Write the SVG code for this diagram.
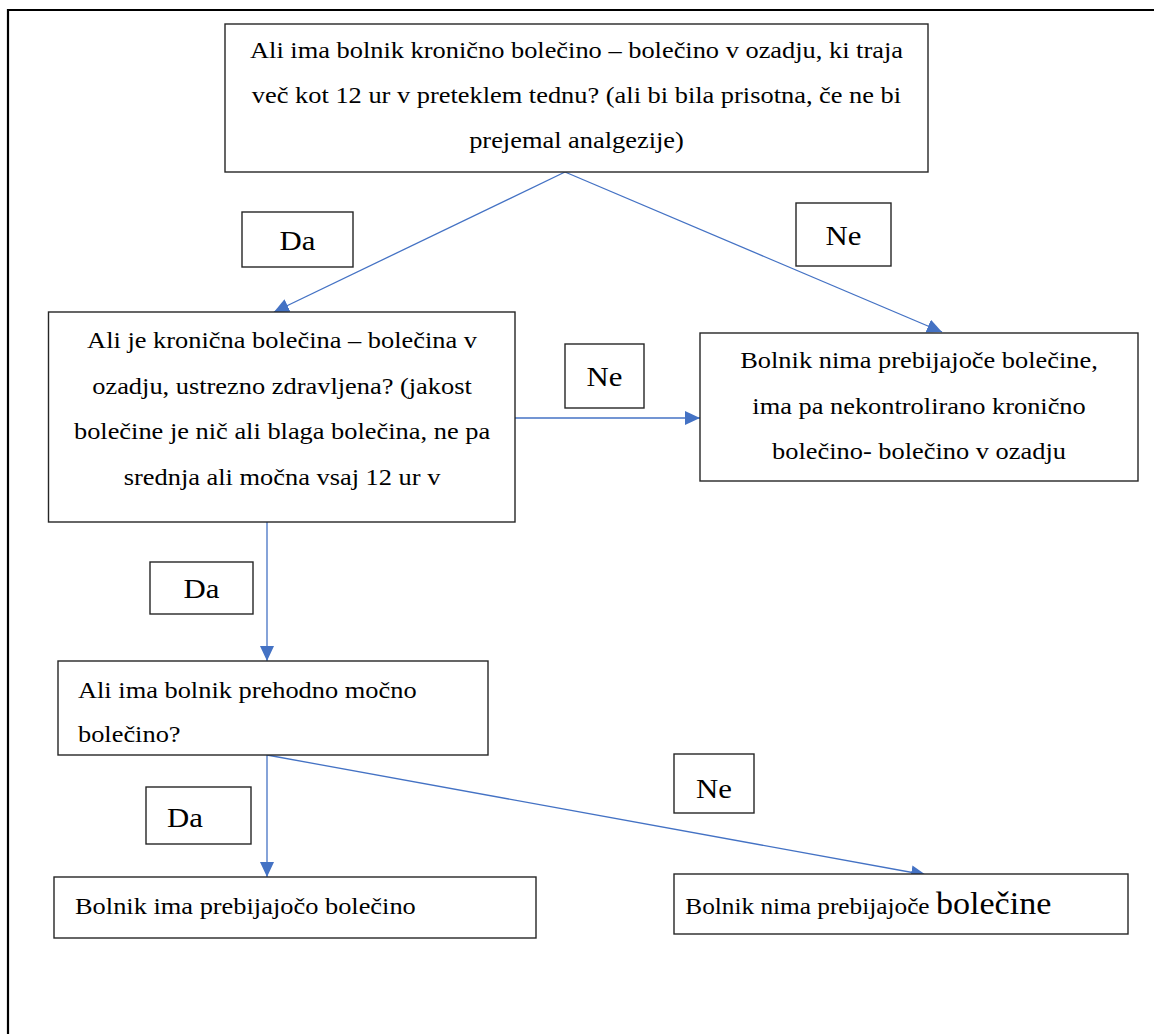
<svg xmlns="http://www.w3.org/2000/svg" width="1154" height="1034" viewBox="0 0 1154 1034">
<defs>
<style>
.box{fill:#fff;stroke:#262626;stroke-width:1.4}
.t{font-family:"Liberation Serif","Times New Roman",serif;font-size:24px;fill:#000}
.c{text-anchor:middle}
.lbl{font-family:"Liberation Serif","Times New Roman",serif;font-size:28px;fill:#000}
.edge{stroke:#4472C4;stroke-width:1.3;fill:none}
</style>
<marker id="ah" markerUnits="userSpaceOnUse" markerWidth="16" markerHeight="14" refX="15" refY="7" orient="auto">
<path d="M0,0 L15,7 L0,14 Z" fill="#4472C4"/>
</marker>
</defs>
<rect width="1154" height="1034" fill="#fff"/>
<g id="frame">
<path d="M8,1034 L8,10 L1154,10" fill="none" stroke="#000" stroke-width="2.2"/>
</g>
<g id="connectors">
<line class="edge" x1="565" y1="172" x2="274" y2="312" marker-end="url(#ah)"/>
<line class="edge" x1="565" y1="172" x2="942" y2="332" marker-end="url(#ah)"/>
<line class="edge" x1="515" y1="418" x2="700" y2="418" marker-end="url(#ah)"/>
<line class="edge" x1="267" y1="522" x2="267" y2="661" marker-end="url(#ah)"/>
<line class="edge" x1="267" y1="755" x2="267" y2="877" marker-end="url(#ah)"/>
<line class="edge" x1="267" y1="755" x2="926" y2="875" marker-end="url(#ah)"/>
</g>
<g id="q1">
<rect class="box" x="225" y="24" width="703" height="148"/>
<text class="t c" transform="scale(1.1 1)" x="524.1" y="58">Ali ima bolnik kronično bolečino – bolečino v ozadju, ki traja</text>
<text class="t c" transform="scale(1.1 1)" x="524.1" y="103">več kot 12 ur v preteklem tednu? (ali bi bila prisotna, če ne bi</text>
<text class="t c" transform="scale(1.1 1)" x="524.1" y="148">prejemal analgezije)</text>
</g>
<g id="lbl-da1">
<rect class="box" x="242" y="212" width="111" height="55"/>
<text class="lbl c" transform="scale(1.1 1)" x="270.5" y="250">Da</text>
</g>
<g id="lbl-ne1">
<rect class="box" x="796" y="203" width="95" height="63"/>
<text class="lbl c" transform="scale(1.1 1)" x="766.8" y="245">Ne</text>
</g>
<g id="q2">
<rect class="box" x="48.5" y="312" width="466.5" height="210"/>
<text class="t c" transform="scale(1.1 1)" x="256.4" y="348">Ali je kronična bolečina – bolečina v</text>
<text class="t c" transform="scale(1.1 1)" x="256.4" y="394">ozadju, ustrezno zdravljena? (jakost</text>
<text class="t c" transform="scale(1.1 1)" x="256.4" y="439">bolečine je nič ali blaga bolečina, ne pa</text>
<text class="t c" transform="scale(1.1 1)" x="256.4" y="485">srednja ali močna vsaj 12 ur v</text>
</g>
<g id="lbl-ne2">
<rect class="box" x="565" y="344" width="79" height="64"/>
<text class="lbl c" transform="scale(1.1 1)" x="549.5" y="386">Ne</text>
</g>
<g id="r1">
<rect class="box" x="700" y="333" width="438" height="148"/>
<text class="t c" transform="scale(1.1 1)" x="835.5" y="368">Bolnik nima prebijajoče bolečine,</text>
<text class="t c" transform="scale(1.1 1)" x="835.5" y="414">ima pa nekontrolirano kronično</text>
<text class="t c" transform="scale(1.1 1)" x="835.5" y="459">bolečino- bolečino v ozadju</text>
</g>
<g id="lbl-da2">
<rect class="box" x="150" y="562" width="103" height="52"/>
<text class="lbl c" transform="scale(1.1 1)" x="183.2" y="598">Da</text>
</g>
<g id="q3">
<rect class="box" x="58" y="661" width="430" height="94"/>
<text class="t" transform="scale(1.1 1)" x="70.9" y="698">Ali ima bolnik prehodno močno</text>
<text class="t" transform="scale(1.1 1)" x="70.9" y="742">bolečino?</text>
</g>
<g id="lbl-da3">
<rect class="box" x="146" y="787" width="105" height="57"/>
<text class="lbl" transform="scale(1.1 1)" x="151.8" y="827">Da</text>
</g>
<g id="lbl-ne3">
<rect class="box" x="674" y="754" width="80" height="59"/>
<text class="lbl c" transform="scale(1.1 1)" x="649.1" y="798">Ne</text>
</g>
<g id="r2">
<rect class="box" x="54" y="877" width="482" height="61"/>
<text class="t" transform="scale(1.1 1)" x="68.2" y="914">Bolnik ima prebijajočo bolečino</text>
</g>
<g id="r3">
<rect class="box" x="674" y="874" width="454" height="60"/>
<text class="t" transform="scale(1.1 1)" x="623" y="914" style="font-size:23px">Bolnik nima prebijajoče <tspan style="font-size:31px">bolečine</tspan></text>
</g>
</svg>
